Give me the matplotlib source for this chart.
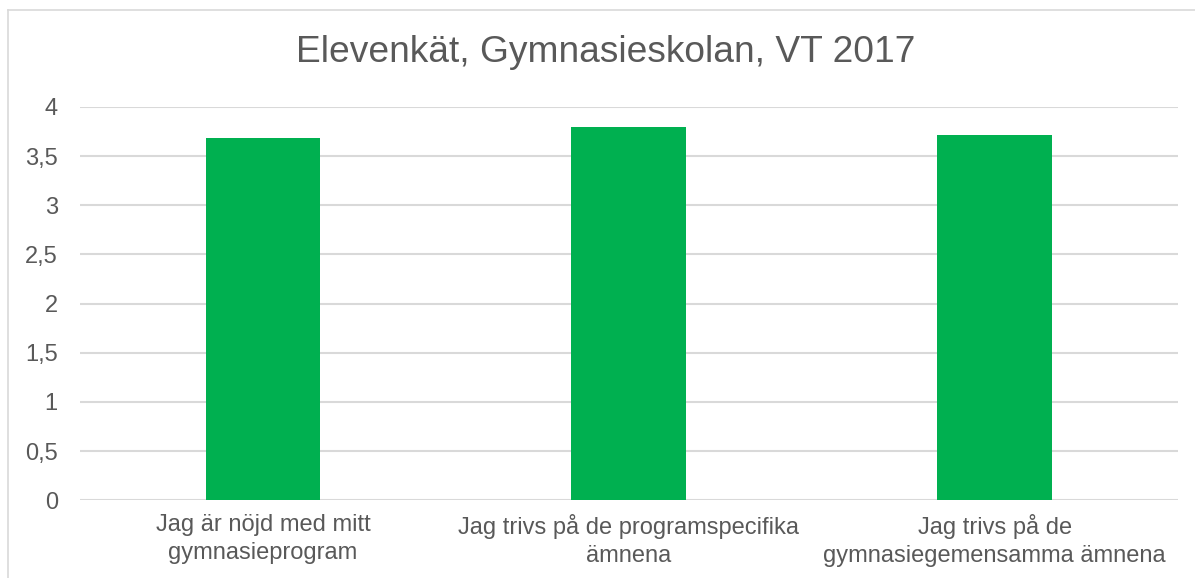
import matplotlib
matplotlib.use("Agg")
import matplotlib.pyplot as plt
from matplotlib.lines import Line2D

categories = ["Jag är nöjd med mitt\ngymnasieprogram",
              "Jag trivs på de programspecifika\nämnena",
              "Jag trivs på de\ngymnasiegemensamma ämnena"]
values = [3.68, 3.80, 3.72]
yticks = [0, 0.5, 1, 1.5, 2, 2.5, 3, 3.5, 4]
ytick_labels = ["0", "0,5", "1", "1,5", "2", "2,5", "3", "3,5", "4"]
title = "Elevenkät, Gymnasieskolan, VT 2017"

plt.rcParams['font.family'] = ['Liberation Sans', 'DejaVu Sans']
W, H = 1195, 578
fig = plt.figure(figsize=(W/100, H/100), dpi=100)
ax = fig.add_axes([80/W, 1-500.3/H, (1177.7-80)/W, (500.3-107)/H])

x = list(range(len(categories)))
ax.bar(x, values, width=0.314, color="#00B050", zorder=3)
ax.set_xlim(-0.5, 2.5)
ax.set_ylim(0, 4)
ax.set_yticks(yticks)
ax.set_yticklabels(ytick_labels)
ax.set_xticks(x)
ax.set_xticklabels(categories, linespacing=1.35)
ax.grid(axis='y', color="#D9D9D9", linewidth=1.5, zorder=0)
for s in ax.spines.values():
    s.set_visible(False)
ax.tick_params(axis='y', length=0, pad=16, labelsize=17, labelcolor="#595959")
ax.tick_params(axis='x', length=0, pad=10, labelsize=17, labelcolor="#595959")

fig.text(606/W, 1-52/H, title, ha='center', va='center', fontsize=26.7, color="#595959")
fig.add_artist(Line2D([8/W, 1], [1-10/H, 1-10/H], color="#D9D9D9", linewidth=1.2))
fig.add_artist(Line2D([8/W, 8/W], [0, 1-10/H], color="#D9D9D9", linewidth=1.2))

fig.savefig("out.png", dpi=100)
